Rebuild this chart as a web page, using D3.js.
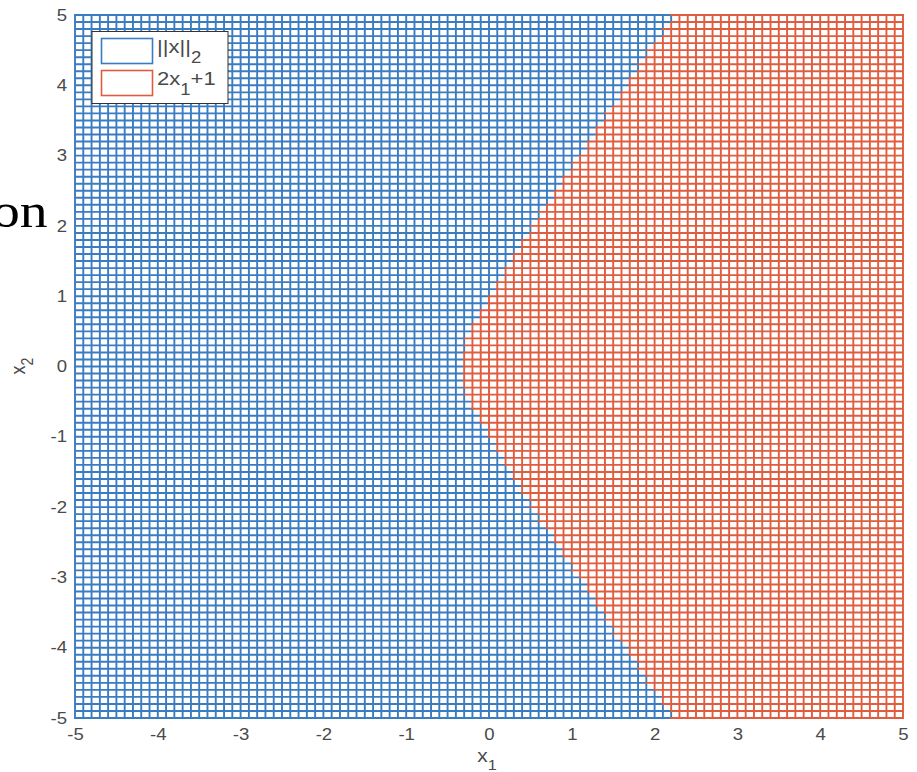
<!DOCTYPE html>
<html>
<head>
<meta charset="utf-8">
<script src="https://cdn.jsdelivr.net/npm/d3@7"></script>
<style>
  html, body { margin: 0; padding: 0; background: #fff; }
  svg { display: block; }
  .tick text { font-family: "Liberation Sans", Arial, sans-serif; font-size: 16px; fill: #4a4a4a; }
  .lbl { font-family: "Liberation Sans", Arial, sans-serif; fill: #4a4a4a; }
</style>
</head>
<body>
<svg id="chart" width="917" height="772"></svg>
<script>
// ---- data ----
const x1Ticks = [-5, -4, -3, -2, -1, 0, 1, 2, 3, 4, 5];
const x2Ticks = [-5, -4, -3, -2, -1, 0, 1, 2, 3, 4, 5];
const gridStep = 0.1; // mesh spacing (10 cells per unit)
// where the red surface (2x1+1) takes over from the blue one (||x||2), per x2 row
const boundaryX2 = [-5, -4.75, -4.5, -4.25, -4, -3.75, -3.5, -3.25, -3, -2.75, -2.5, -2.25, -2, -1.75, -1.5, -1.25, -1, -0.75, -0.5, -0.25,
  0, 0.25, 0.5, 0.75, 1, 1.25, 1.5, 1.75, 2, 2.25, 2.5, 2.75, 3, 3.25, 3.5, 3.75, 4, 4.25, 4.5, 4.75, 5];
const boundaryX1 = [2.24, 2.10, 1.95, 1.81, 1.67, 1.52, 1.38, 1.24, 1.10, 0.96, 0.81, 0.67, 0.54, 0.40, 0.26, 0.13, 0.00, -0.12, -0.23, -0.30,
  -0.33, -0.30, -0.23, -0.12, 0.00, 0.13, 0.26, 0.40, 0.54, 0.67, 0.81, 0.96, 1.10, 1.24, 1.38, 1.52, 1.67, 1.81, 1.95, 2.10, 2.24];
const seriesNames = ["||x||", "2x"];
const BLUE = "#3a7cc2";
const RED = "#e05c3e";

// the source picture is stretched sideways, so glyphs are widened to match
const SX = 1.16;

// ---- layout ----
const svg = d3.select("#chart");
const x = d3.scaleLinear().domain([-5, 5]).range([75, 903]);
const y = d3.scaleLinear().domain([-5, 5]).range([718, 15]);
// boundary curve as a scale: x2 -> x1 where red takes over
const edge = d3.scaleLinear().domain(boundaryX2).range(boundaryX1);

const n = Math.round(10 / gridStep);
const levels = d3.range(0, n + 1).map((i) => -5 + i * gridStep);

// each mesh segment shows whichever surface is on top at its middle
const segs = { blue: d3.path(), red: d3.path() };
for (let j = 0; j <= n; j++) {
  for (let i = 0; i < n; i++) {
    // horizontal piece along row x2 = levels[j]
    const xm = (levels[i] + levels[i + 1]) / 2;
    const ph = xm > edge(levels[j]) ? segs.red : segs.blue;
    ph.moveTo(x(levels[i]), y(levels[j]));
    ph.lineTo(x(levels[i + 1]), y(levels[j]));
    // vertical piece along column x1 = levels[j]
    const ym = (levels[i] + levels[i + 1]) / 2;
    const pv = levels[j] > edge(ym) ? segs.red : segs.blue;
    pv.moveTo(x(levels[j]), y(levels[i]));
    pv.lineTo(x(levels[j]), y(levels[i + 1]));
  }
}
svg.append("path").attr("d", segs.blue.toString()).attr("fill", "none")
  .attr("stroke", BLUE).attr("stroke-width", 1.9).attr("stroke-linecap", "square");
svg.append("path").attr("d", segs.red.toString()).attr("fill", "none")
  .attr("stroke", RED).attr("stroke-width", 1.9).attr("stroke-linecap", "square");

// ---- axes ----
const fmt = (d) => String(d);
const xa = svg.append("g").attr("transform", `translate(0,${y(-5)})`)
  .call(d3.axisBottom(x).tickValues(x1Ticks).tickFormat(fmt).tickSize(0).tickPadding(11));
const ya = svg.append("g").attr("transform", `translate(${x(-5)},0)`)
  .call(d3.axisLeft(y).tickValues(x2Ticks).tickFormat(fmt).tickSize(0).tickPadding(8));
xa.select(".domain").remove();
ya.select(".domain").remove();
// widen glyphs around their anchor
xa.selectAll(".tick text").attr("transform", `scale(${SX},1)`);
ya.selectAll(".tick text").each(function () {
  const t = d3.select(this);
  const x0 = +t.attr("x");
  t.attr("x", 0).attr("transform", `translate(${x0},0) scale(${SX},1)`);
});

// axis labels with subscripts
const xl = svg.append("text").attr("class", "lbl").attr("text-anchor", "middle").attr("font-size", 18)
  .attr("transform", `translate(487,762) scale(${SX},1)`);
xl.append("tspan").text("x");
xl.append("tspan").attr("font-size", 14).attr("dy", 8).text("1");

const yl = svg.append("text").attr("class", "lbl").attr("text-anchor", "middle").attr("font-size", 18)
  .attr("transform", "translate(25,366) rotate(-90) scale(1,1.16)");
yl.append("tspan").text("x");
yl.append("tspan").attr("font-size", 14).attr("dy", 7).text("2");

// ---- legend ----
const lg = svg.append("g");
lg.append("rect").attr("x", 92).attr("y", 31.5).attr("width", 136).attr("height", 72)
  .attr("fill", "#fff").attr("stroke", "#333").attr("stroke-width", 1);
[BLUE, RED].forEach((c, i) => {
  lg.append("rect").attr("x", 101.5).attr("y", 38.5 + i * 32).attr("width", 51).attr("height", 25)
    .attr("fill", "#fff").attr("stroke", c).attr("stroke-width", 1.6);
});
const t1 = lg.append("text").attr("class", "lbl").attr("font-size", 19)
  .attr("transform", `translate(157,53) scale(${SX},1)`);
t1.append("tspan").text(seriesNames[0]);
t1.append("tspan").attr("font-size", 16).attr("dy", 10).text("2");
const t2 = lg.append("text").attr("class", "lbl").attr("font-size", 19)
  .attr("transform", `translate(157,85) scale(${SX},1)`);
t2.append("tspan").text(seriesNames[1]);
t2.append("tspan").attr("font-size", 16).attr("dy", 10).text("1");
t2.append("tspan").attr("dy", -10).text("+1");

// stray serif fragment at the left edge of the crop
svg.append("text").attr("transform", `translate(-8,227) scale(${SX},1)`)
  .attr("font-family", "'Liberation Serif', 'Times New Roman', serif").attr("font-size", 48)
  .attr("fill", "#000").text("on");
</script>
</body>
</html>
